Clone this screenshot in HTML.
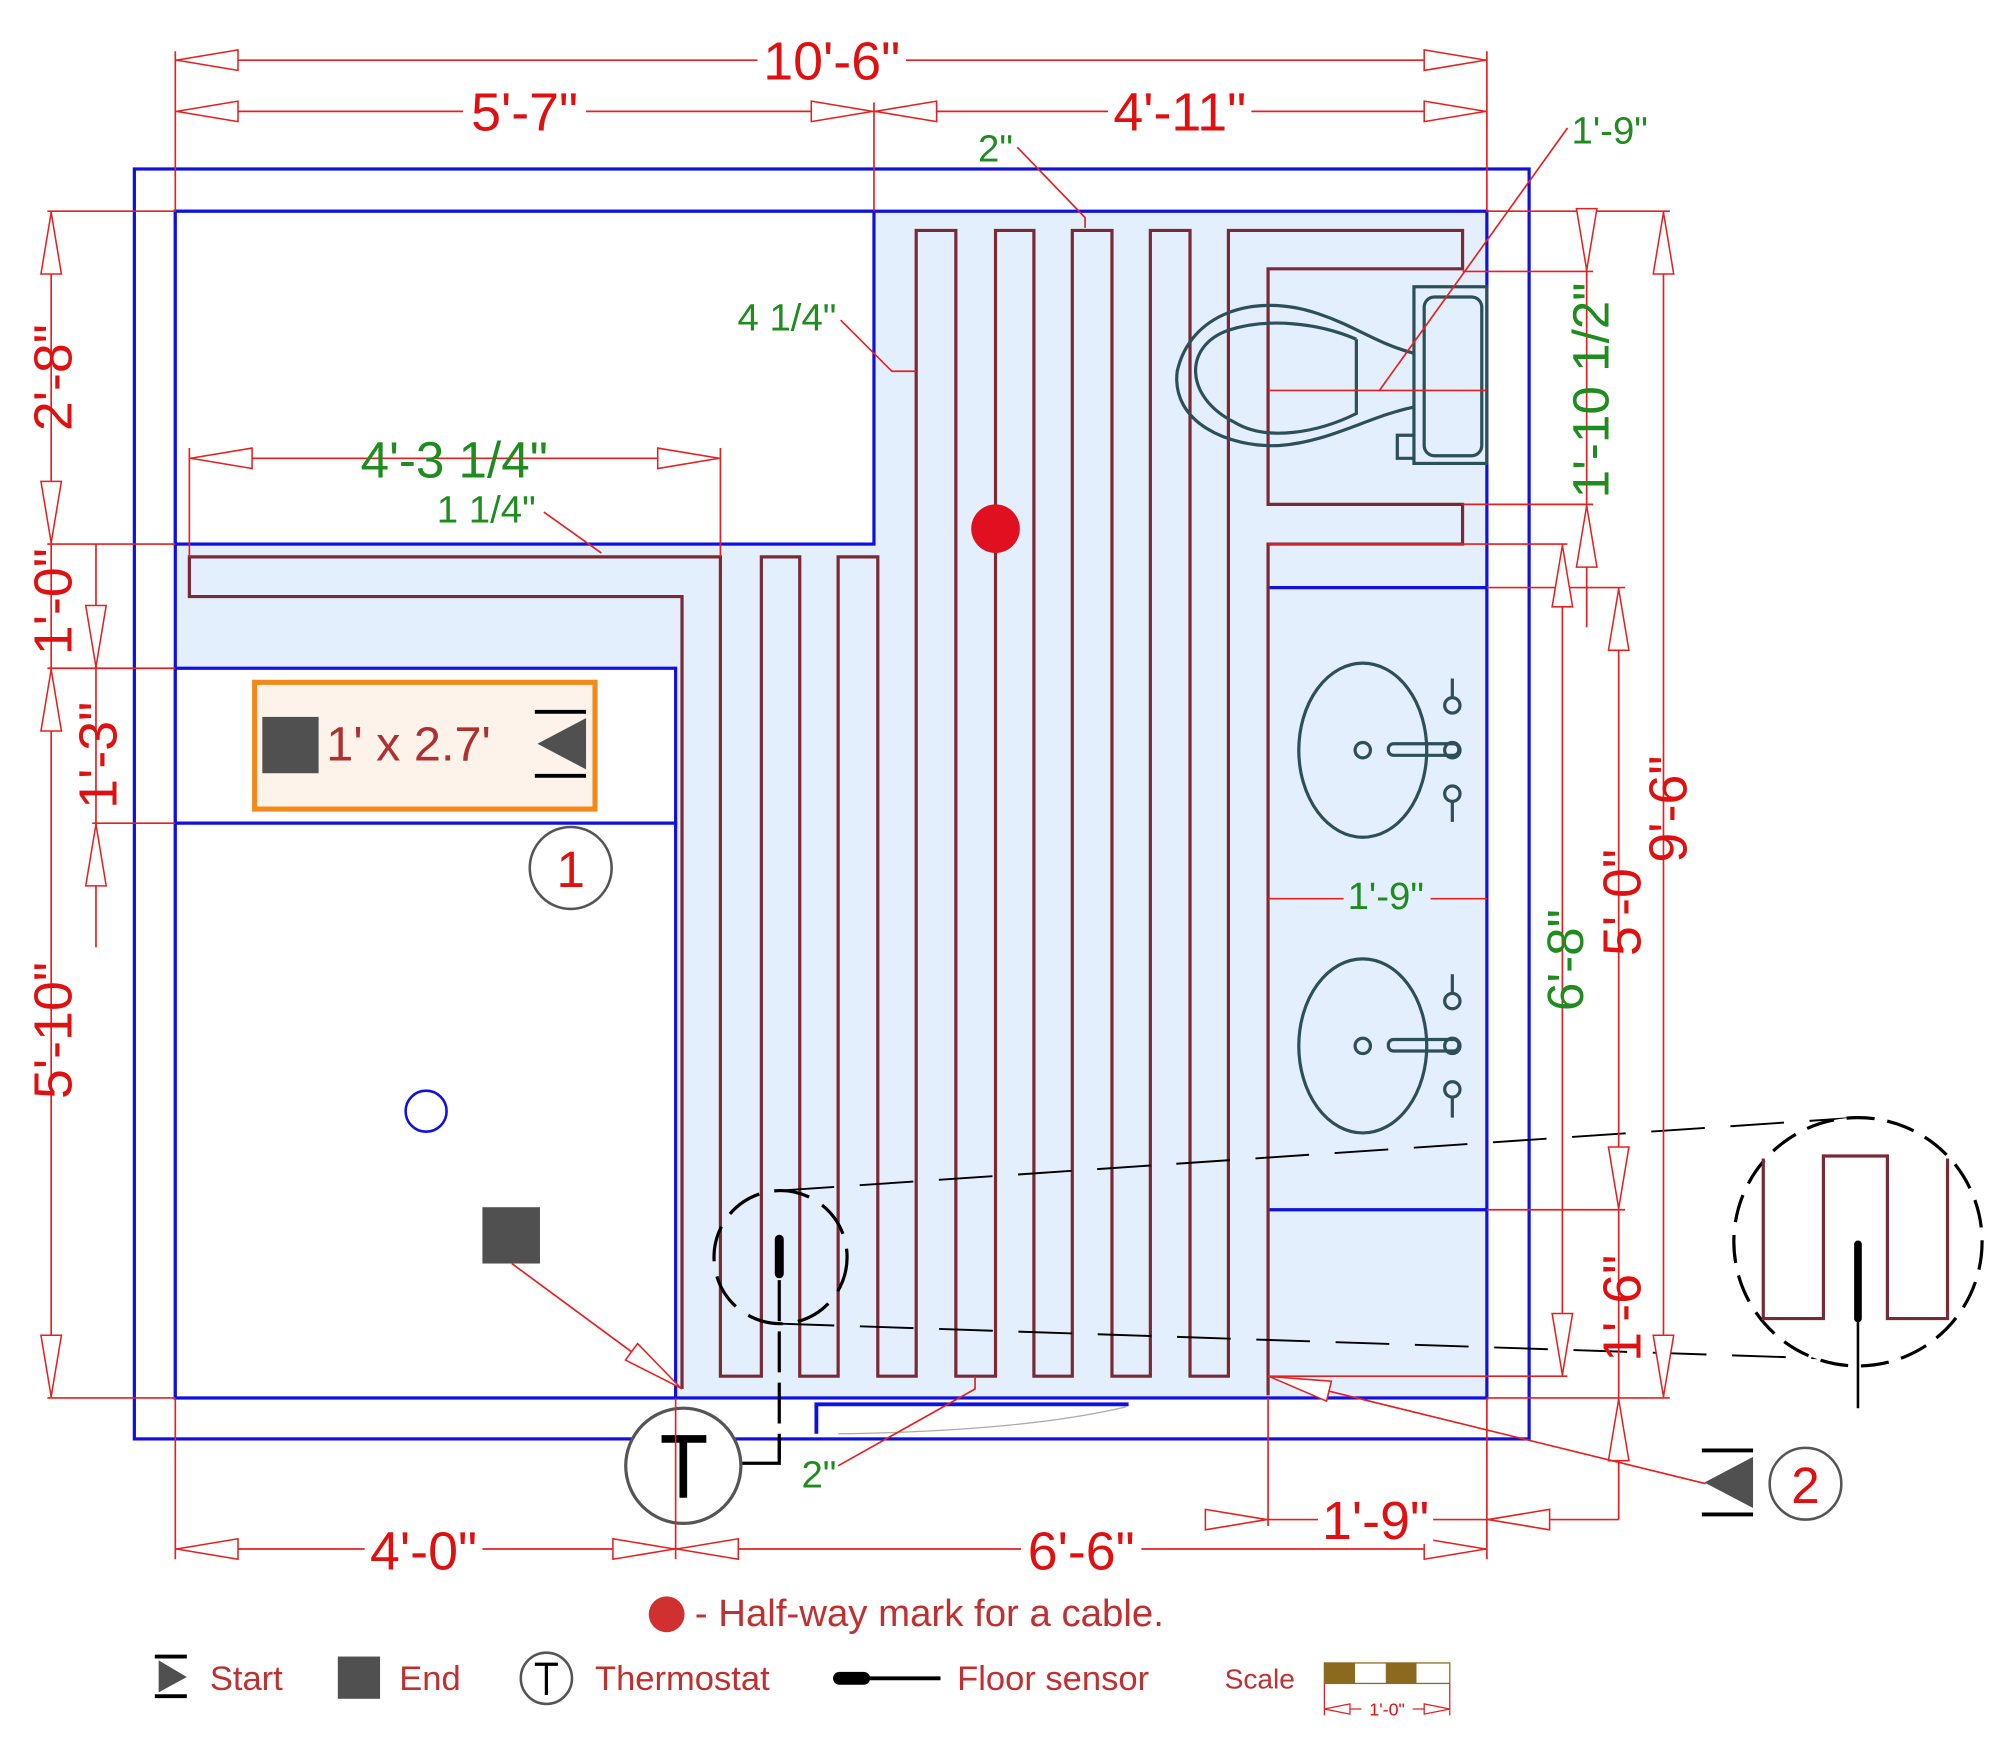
<!DOCTYPE html>
<html><head><meta charset="utf-8"><style>
html,body{margin:0;padding:0;background:#fff;}
svg{display:block;}
text{font-family:"Liberation Sans",sans-serif;}
</style></head><body>
<svg width="2000" height="1750" viewBox="0 0 1563 1367" preserveAspectRatio="none" xmlns="http://www.w3.org/2000/svg">
<defs>
<marker id="a" markerUnits="userSpaceOnUse" markerWidth="52" markerHeight="18" refX="49" refY="8" orient="auto-start-reverse" viewBox="-1 -1 52 18">
<path d="M0,0 L48,8 L0,16 Z" fill="#fff" stroke="#e52020" stroke-width="1.2"/>
</marker>
<marker id="s" markerUnits="userSpaceOnUse" markerWidth="22" markerHeight="10" refX="20" refY="4" orient="auto-start-reverse" viewBox="-1 -1 22 10">
<path d="M0,0 L20,4 L0,8 Z" fill="#fff" stroke="#e52020" stroke-width="1"/>
</marker>
</defs>

<!-- heated area -->
<path d="M683,165 L1162,165 L1162,1092 L528,1092 L528,522 L137,522 L137,425 L683,425 Z" fill="#e3effc"/>
<!-- walls -->
<rect x="105" y="132" width="1090" height="992" fill="none" stroke="#1010e0" stroke-width="2.5"/>
<rect x="137" y="165" width="1025" height="927" fill="none" stroke="#1010e0" stroke-width="2.5"/>
<rect x="137" y="165" width="546" height="260" fill="#fff" stroke="#1010e0" stroke-width="2.5"/>
<rect x="137" y="522" width="391" height="121" fill="#fff" stroke="#1010e0" stroke-width="2.5"/>
<rect x="137" y="643" width="391" height="449" fill="#fff" stroke="#1010e0" stroke-width="2.5"/>
<line x1="991" y1="459" x2="1162" y2="459" stroke="#1010e0" stroke-width="2.5"/>
<line x1="991" y1="945" x2="1162" y2="945" stroke="#1010e0" stroke-width="2.5"/>
<!-- door -->
<path d="M638,1120 L638,1097 L882,1097" fill="none" stroke="#1010e0" stroke-width="3"/>
<path d="M655,1120 Q800,1118 880,1099" fill="none" stroke="#aaa" stroke-width="1"/>

<!-- cable -->
<polyline fill="none" stroke="#7a2a35" stroke-width="2.5" points="533,1085 533,466 148,466 148,435 563,435 563,1075 595,1075 595,435 625,435 625,1075 655,1075 655,435 686,435 686,1075 716,1075 716,180 747,180 747,1075 778,1075 778,180 808,180 808,1075 838,1075 838,180 869,180 869,1075 899,1075 899,180 930,180 930,1075 960,1075 960,180 1143,180 1143,210 991,210 991,394 1143,394 1143,425 991,425 991,1090"/>

<!-- toilet -->
<g fill="none" stroke="#2d4f5a" stroke-width="2.5">
<rect x="1105" y="224" width="57" height="138"/>
<rect x="1113" y="232" width="45" height="124" rx="8"/>
<path d="M1105,276 C1075,268 1060,255 1030,245 C980,228 930,245 920,290 C915,330 960,350 1000,348 C1040,345 1070,325 1105,318"/>
<path d="M1060,265 L1060,323 C1030,338 990,345 965,330 C925,310 925,270 960,258 C990,248 1030,252 1060,265"/>
<path d="M1105,340 L1092,340 L1092,358 L1105,358"/>
</g>
<!-- sinks -->
<g fill="none" stroke="#2d4f5a" stroke-width="2.5">
<ellipse cx="1065" cy="586" rx="50" ry="68"/>
<circle cx="1065" cy="586" r="6"/>
<rect x="1085" y="581" width="55" height="9" rx="4"/>
<circle cx="1135" cy="586" r="6"/>
<line x1="1135" y1="530" x2="1135" y2="545"/><circle cx="1135" cy="551" r="6"/>
<circle cx="1135" cy="620" r="6"/><line x1="1135" y1="626" x2="1135" y2="642"/>
<ellipse cx="1065" cy="817" rx="50" ry="68"/>
<circle cx="1065" cy="817" r="6"/>
<rect x="1085" y="812" width="55" height="9" rx="4"/>
<circle cx="1135" cy="817" r="6"/>
<line x1="1135" y1="761" x2="1135" y2="776"/><circle cx="1135" cy="782" r="6"/>
<circle cx="1135" cy="851" r="6"/><line x1="1135" y1="857" x2="1135" y2="873"/>
</g>

<!-- markers -->
<circle cx="778" cy="413" r="19" fill="#e01020"/>
<circle cx="333" cy="868" r="16" fill="none" stroke="#1010e0" stroke-width="2"/>
<rect x="377" y="943" width="45" height="44" fill="#505050"/>
<rect x="199" y="533" width="266" height="99" fill="#fdf3ea" stroke="#f28a1a" stroke-width="4"/>
<rect x="205" y="560" width="44" height="44" fill="#505050"/>
<text x="255" y="594" font-size="38" fill="#b03030">1' x 2.7'</text>
<line x1="418" y1="556" x2="458" y2="556" stroke="#000" stroke-width="3"/>
<line x1="418" y1="606" x2="458" y2="606" stroke="#000" stroke-width="3"/>
<polygon points="458,561 458,601 420,581" fill="#505050"/>
<circle cx="446" cy="678" r="32" fill="#fff" stroke="#555" stroke-width="2"/>
<text x="446" y="693" font-size="40" fill="#e01010" text-anchor="middle">1</text>

<!-- sensor & thermostat -->
<line x1="609" y1="1000" x2="609" y2="1140" stroke="#000" stroke-width="2.5" stroke-dasharray="32,8"/>
<line x1="609" y1="968" x2="609" y2="995" stroke="#000" stroke-width="7" stroke-linecap="round"/>
<polyline points="609,1125 609,1143 580,1143" fill="none" stroke="#000" stroke-width="2.5"/>
<circle cx="610" cy="982" r="52" fill="none" stroke="#000" stroke-width="2.5" stroke-dasharray="28,12"/>
<line x1="610" y1="930" x2="1452" y2="873" stroke="#000" stroke-width="1.5" stroke-dasharray="42,20"/>
<line x1="610" y1="1034" x2="1452" y2="1062" stroke="#000" stroke-width="1.5" stroke-dasharray="42,20"/>
<circle cx="534" cy="1145" r="45" fill="#fff" stroke="#555" stroke-width="2.5"/>
<path d="M517,1124 L552,1124 M534,1124 L534,1170" stroke="#000" stroke-width="6" fill="none"/>
<!-- zoom detail -->
<circle cx="1452" cy="970" r="97" fill="#fff" stroke="#000" stroke-width="2.5" stroke-dasharray="22,10"/>
<polyline points="1378,905 1378,1030 1425,1030 1425,903 1475,903 1475,1030 1522,1030 1522,905" fill="none" stroke="#7a2a35" stroke-width="2.5"/>
<line x1="1452" y1="972" x2="1452" y2="1030" stroke="#000" stroke-width="6" stroke-linecap="round"/>
<line x1="1452" y1="1030" x2="1452" y2="1100" stroke="#000" stroke-width="2"/>
<!-- marker 2 -->
<line x1="1330" y1="1133" x2="1370" y2="1133" stroke="#000" stroke-width="3"/>
<line x1="1330" y1="1183" x2="1370" y2="1183" stroke="#000" stroke-width="3"/>
<polygon points="1370,1138 1370,1178 1332,1158" fill="#505050"/>
<circle cx="1411" cy="1159" r="28" fill="#fff" stroke="#555" stroke-width="2"/>
<text x="1411" y="1174" font-size="40" fill="#e01010" text-anchor="middle">2</text>

<!-- red dimension lines -->
<g stroke="#e52020" stroke-width="1.3" fill="none">
<!-- ext lines -->
<path d="M137,40 V165 M1162,40 V165 M683,80 V165 M137,1092 V1218 M528,1092 V1218 M1162,1092 V1218 M991,1092 V1192 M37,165 H137 M37,425 H137 M37,522 H137 M37,1092 H137 M72,643 H137 M1162,165 H1305 M1143,212 H1245 M1143,394 H1245 M991,425 H1225 M1162,459 H1270 M1162,945 H1270 M1162,1092 H1305 M991,1075 H1225 M148,350 V435 M563,350 V435"/>
<line x1="137" y1="47" x2="1162" y2="47" marker-start="url(#a)" marker-end="url(#a)"/>
<line x1="137" y1="87" x2="683" y2="87" marker-start="url(#a)" marker-end="url(#a)"/>
<line x1="683" y1="87" x2="1162" y2="87" marker-start="url(#a)" marker-end="url(#a)"/>
<line x1="148" y1="358" x2="563" y2="358" marker-start="url(#a)" marker-end="url(#a)"/>
<line x1="137" y1="1210" x2="528" y2="1210" marker-start="url(#a)" marker-end="url(#a)"/>
<line x1="528" y1="1210" x2="1162" y2="1210" marker-start="url(#a)" marker-end="url(#a)"/>
<line x1="943" y1="1187" x2="1265" y2="1187"/>
<line x1="943" y1="1187" x2="991" y2="1187" marker-end="url(#a)"/>
<line x1="1210" y1="1187" x2="1162" y2="1187" marker-end="url(#a)"/>
<line x1="40" y1="165" x2="40" y2="425" marker-start="url(#a)" marker-end="url(#a)"/>
<line x1="40" y1="425" x2="40" y2="522"/>
<line x1="40" y1="522" x2="40" y2="1092" marker-start="url(#a)" marker-end="url(#a)"/>
<line x1="75" y1="425" x2="75" y2="740"/>
<line x1="75" y1="474" x2="75" y2="522" marker-end="url(#a)"/>
<line x1="75" y1="691" x2="75" y2="643" marker-end="url(#a)"/>
<line x1="1300" y1="165" x2="1300" y2="1092" marker-start="url(#a)" marker-end="url(#a)"/>
<line x1="1221" y1="425" x2="1221" y2="1075" marker-start="url(#a)" marker-end="url(#a)"/>
<line x1="1265" y1="459" x2="1265" y2="945" marker-start="url(#a)" marker-end="url(#a)"/>
<line x1="1265" y1="945" x2="1265" y2="1187"/>
<line x1="1265" y1="1140" x2="1265" y2="1092" marker-end="url(#a)"/>
<line x1="1240" y1="165" x2="1240" y2="490"/>
<line x1="1240" y1="164" x2="1240" y2="212" marker-end="url(#a)"/>
<line x1="1240" y1="442" x2="1240" y2="394" marker-end="url(#a)"/>
<line x1="991" y1="305" x2="1162" y2="305"/>
<line x1="991" y1="702" x2="1050" y2="702"/><line x1="1118" y1="702" x2="1162" y2="702"/>
<!-- leaders -->
<polyline points="795,115 848,170 848,178"/>
<polyline points="1225,100 1078,305"/>
<polyline points="657,250 697,290 716,290"/>
<polyline points="425,400 470,432"/>
<polyline points="655,1145 762,1085 762,1075"/>
<line x1="400" y1="987" x2="533" y2="1085" marker-end="url(#a)"/>
<line x1="1333" y1="1159" x2="991" y2="1075" marker-end="url(#a)"/>
</g>

<!-- dimension text -->
<g fill="#e01010" font-size="42">
<rect x="592" y="25" width="116" height="40" fill="#fff"/>
<text x="650" y="62" text-anchor="middle">10'-6"</text>
<rect x="362" y="68" width="96" height="40" fill="#fff"/>
<text x="410" y="102" text-anchor="middle">5'-7"</text>
<rect x="866" y="68" width="112" height="40" fill="#fff"/>
<text x="922" y="102" text-anchor="middle">4'-11"</text>
<rect x="285" y="1192" width="92" height="38" fill="#fff"/>
<text x="331" y="1226" text-anchor="middle">4'-0"</text>
<rect x="798" y="1192" width="94" height="38" fill="#fff"/>
<text x="845" y="1226" text-anchor="middle">6'-6"</text>
<rect x="1030" y="1168" width="90" height="38" fill="#fff"/>
<text x="1075" y="1202" text-anchor="middle">1'-9"</text>
<text transform="translate(56,295) rotate(-90)" text-anchor="middle">2'-8"</text>
<text transform="translate(56,470) rotate(-90)" text-anchor="middle">1'-0"</text>
<text transform="translate(56,805) rotate(-90)" text-anchor="middle">5'-10"</text>
<text transform="translate(91,590) rotate(-90)" text-anchor="middle">1'-3"</text>
<text transform="translate(1318,632) rotate(-90)" text-anchor="middle">9'-6"</text>
<text transform="translate(1282,705) rotate(-90)" text-anchor="middle">5'-0"</text>
<text transform="translate(1282,1022) rotate(-90)" text-anchor="middle">1'-6"</text>
</g>
<g fill="#1e8c1e">
<text x="355" y="373" font-size="40" text-anchor="middle">4'-3 1/4"</text>
<text x="380" y="408" font-size="30" text-anchor="middle">1 1/4"</text>
<text x="615" y="258" font-size="30" text-anchor="middle">4 1/4"</text>
<text x="778" y="126" font-size="30" text-anchor="middle">2"</text>
<text x="1258" y="112" font-size="30" text-anchor="middle">1'-9"</text>
<text x="1083" y="710" font-size="30" text-anchor="middle">1'-9"</text>
<text x="640" y="1162" font-size="30" text-anchor="middle">2"</text>
<text transform="translate(1257,305) rotate(-90)" font-size="40" text-anchor="middle">1'-10 1/2"</text>
<text transform="translate(1237,750) rotate(-90)" font-size="40" text-anchor="middle">6'-8"</text>
</g>

<!-- legend -->
<circle cx="521" cy="1261" r="14" fill="#d03030"/>
<text x="543" y="1270" font-size="30" fill="#c03030">- Half-way mark for a cable.</text>
<line x1="121" y1="1294" x2="146" y2="1294" stroke="#000" stroke-width="3"/>
<line x1="121" y1="1325" x2="146" y2="1325" stroke="#000" stroke-width="3"/>
<polygon points="124,1297 124,1322 146,1310" fill="#505050"/>
<text x="164" y="1320" font-size="27" fill="#c03030">Start</text>
<rect x="264" y="1294" width="33" height="33" fill="#505050"/>
<text x="312" y="1320" font-size="27" fill="#c03030">End</text>
<circle cx="427" cy="1311" r="20" fill="#fff" stroke="#555" stroke-width="2"/>
<path d="M418,1300 L436,1300 M427,1300 L427,1324" stroke="#000" stroke-width="2.5"/>
<text x="465" y="1320" font-size="27" fill="#c03030">Thermostat</text>
<line x1="656" y1="1311" x2="675" y2="1311" stroke="#000" stroke-width="10" stroke-linecap="round"/>
<line x1="675" y1="1311" x2="735" y2="1311" stroke="#000" stroke-width="3"/>
<text x="748" y="1320" font-size="27" fill="#c03030">Floor sensor</text>
<text x="957" y="1319" font-size="22" fill="#c03030">Scale</text>
<rect x="1035" y="1299" width="98" height="16" fill="#fff" stroke="#8b6a20" stroke-width="1"/>
<rect x="1035" y="1299" width="24" height="16" fill="#8b6a20"/>
<rect x="1083" y="1299" width="24" height="16" fill="#8b6a20"/>
<g stroke="#e52020" stroke-width="1" fill="none">
<path d="M1035,1315 V1340 M1133,1315 V1340"/>
<line x1="1035" y1="1335" x2="1133" y2="1335" marker-start="url(#s)" marker-end="url(#s)"/>
</g>
<rect x="1064" y="1327" width="40" height="14" fill="#fff"/>
<text x="1084" y="1340" font-size="14" fill="#e01010" text-anchor="middle">1'-0"</text>
</svg>
</body></html>
